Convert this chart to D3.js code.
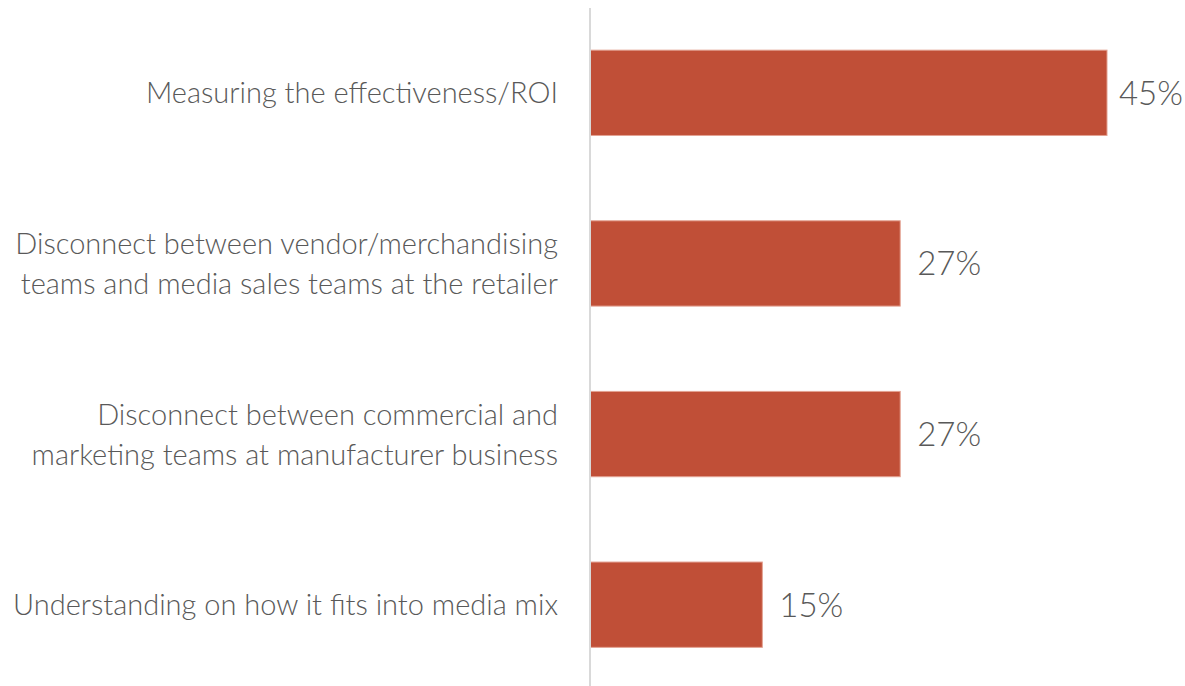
<!DOCTYPE html>
<html>
<head>
<meta charset="utf-8">
<script src="https://cdn.jsdelivr.net/npm/d3@7"></script>
<style>
  html, body { margin: 0; padding: 0; background: #ffffff; }
  svg { display: block; }
</style>
</head>
<body>
<svg id="chart" width="1185" height="686"></svg>
<script>
// Challenges and their share of respondents (%)
const categories = [
  ["Measuring the effectiveness/ROI"],
  ["Disconnect between vendor/merchandising", "teams and media sales teams at the retailer"],
  ["Disconnect between commercial and", "marketing teams at manufacturer business"],
  ["Understanding on how it fits into media mix"]
];
const values = [45, 27, 27, 15];
const valueLabels = ["45%", "27%", "27%", "15%"];

const W = 1185, H = 686;
const axisX = 590;
const barColor = "#c04f37";
const textColor = "#595959";
const font = "Lato, 'Open Sans', sans-serif";

const svg = d3.select("#chart");

const x = d3.scaleLinear().domain([0, 45]).range([axisX, 1107]);
const y = d3.scaleBand()
  .domain(d3.range(categories.length))
  .range([7.5, 690])
  .paddingInner(0.5)
  .paddingOuter(0.25);

// bars
svg.append("g").selectAll("rect")
  .data(values)
  .join("rect")
  .attr("x", x(0))
  .attr("y", (d, i) => y(i))
  .attr("width", d => x(d) - x(0))
  .attr("height", y.bandwidth())
  .attr("fill", barColor)
  .attr("stroke", "#e3a292")
  .attr("stroke-width", 1);

// vertical baseline
svg.append("line")
  .attr("x1", axisX).attr("x2", axisX)
  .attr("y1", 8).attr("y2", H)
  .attr("stroke", "#d9d9d9")
  .attr("stroke-width", 2);

// category labels, right aligned to the left of the baseline
const lineH = 40;
const cat = svg.append("g")
  .attr("font-family", font)
  .attr("font-weight", 300)
  .attr("font-size", 29)
  .attr("fill", textColor)
  .attr("text-anchor", "end");

categories.forEach((lines, i) => {
  const cy = y(i) + y.bandwidth() / 2;
  const t = cat.append("text")
    .attr("x", axisX - 32)
    .attr("y", cy - (lines.length - 1) * lineH / 2);
  lines.forEach((ln, j) => {
    t.append("tspan")
      .attr("x", axisX - 32)
      .attr("dy", j === 0 ? "0.36em" : lineH)
      .text(ln);
  });
});

// value labels at bar ends, kept inside the drawing area
const vl = svg.append("g")
  .attr("font-family", font)
  .attr("font-weight", 300)
  .attr("font-size", 33)
  .attr("fill", textColor);

valueLabels.forEach((lab, i) => {
  const t = vl.append("text")
    .attr("x", x(values[i]) + 17)
    .attr("y", y(i) + y.bandwidth() / 2)
    .attr("dy", "0.36em")
    .text(lab);
  const w = t.node().getComputedTextLength();
  if (x(values[i]) + 17 + w > W - 2) t.attr("x", W - 2 - w);
});
</script>
</body>
</html>
